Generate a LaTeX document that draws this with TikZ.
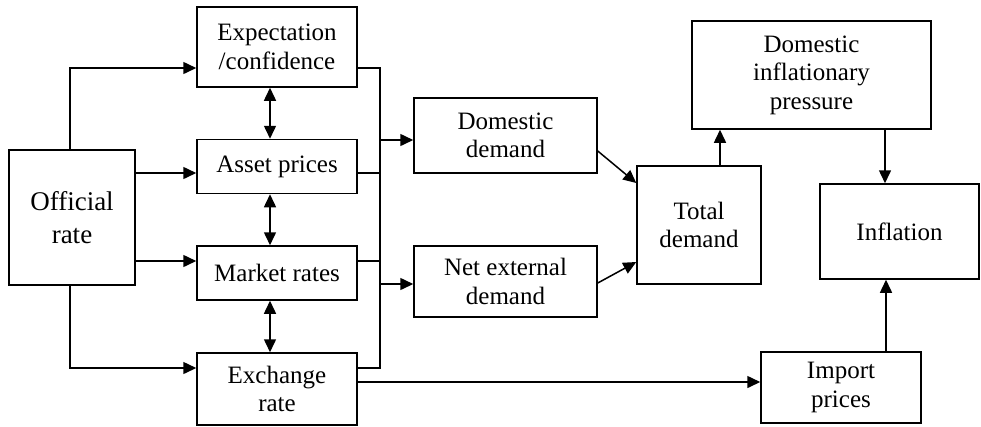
\documentclass[tikz,border=0pt]{standalone}
\usepackage{fontspec}
\setmainfont{Liberation Serif}
\usetikzlibrary{arrows.meta}

\begin{document}
\begin{tikzpicture}[x=1pt, y=-1pt, >={Triangle[length=13pt, width=12pt]}, line width=1.5pt,
  box/.style={draw, inner sep=0pt, align=center, font=\fontsize{25}{28.5}\selectfont}]
\useasboundingbox (0,0) rectangle (981,426);
\node[box, minimum width=126pt, minimum height=135pt, font=\fontsize{27}{33}\selectfont] (official) at (72,217.5) {Official\\ rate};
\node[box, minimum width=160pt, minimum height=80pt] (expect) at (277,47) {Expectation\\ /confidence};
\node[box, minimum width=160pt, minimum height=54pt] (asset) at (277,166.5) {Asset prices};
\node[box, minimum width=160pt, minimum height=54pt] (market) at (277,273) {Market rates};
\node[box, minimum width=160pt, minimum height=72pt] (exch) at (277,389) {Exchange\\ rate};
\node[box, minimum width=183pt, minimum height=75pt] (domdem) at (505.5,135.5) {Domestic\\ demand};
\node[box, minimum width=183pt, minimum height=71pt] (netdem) at (505.5,281.5) {Net external\\ demand};
\node[box, minimum width=124pt, minimum height=118pt] (total) at (699,225) {Total\\ demand};
\node[box, minimum width=239pt, minimum height=108pt] (dompress) at (811.5,75) {Domestic\\ inflationary\\ pressure};
\node[box, minimum width=159pt, minimum height=95pt] (infl) at (899.5,231.5) {Inflation};
\node[box, minimum width=160pt, minimum height=71pt] (import) at (841,387.5) {Import\\ prices};
% collecting line
\coordinate (bus1) at (380,68);
\coordinate (bus2) at (380,173);
\coordinate (bus3) at (380,261);
\coordinate (bus4) at (380,368);
\coordinate (tapdom) at (380,140);
\coordinate (tapnet) at (380,284);
\draw[->] ([xshift=-2pt]official.north) |- (expect.west |- bus1);
\draw[->] (official.east |- bus2) -- (asset.west |- bus2);
\draw[->] (official.east |- bus3) -- (market.west |- bus3);
\draw[->] ([xshift=-2pt]official.south) |- (exch.west |- bus4);
\foreach \a/\b in {expect/asset, asset/market, market/exch}
  \draw[<->] ([xshift=-7pt]\a.south) -- ([xshift=-7pt]\b.north);
\draw (expect.east |- bus1) -- (bus1) -- (bus4) -- (exch.east |- bus4);
\draw (asset.east |- bus2) -- (bus2);
\draw (market.east |- bus3) -- (bus3);
\draw[->] (tapdom) -- (domdem.west |- tapdom);
\draw[->] (tapnet) -- (netdem.west |- tapnet);
\draw[->] ([yshift=-15.5pt]domdem.east) -- ([yshift=42pt]total.west);
\draw[->] ([yshift=-1.5pt]netdem.east) -- ([yshift=-37pt]total.west);
\draw[->] ([xshift=21pt]total.north) -- ([xshift=21pt]total.north |- dompress.south);
\draw[->] ([xshift=-14.5pt]infl.north |- dompress.south) -- ([xshift=-14.5pt]infl.north);
\draw[->] ([xshift=45pt]import.north) -- ([xshift=45pt]import.north |- infl.south);
\draw[->] ([yshift=7pt]exch.east) -- ([yshift=7pt]exch.east -| import.west);
\end{tikzpicture}
\end{document}
